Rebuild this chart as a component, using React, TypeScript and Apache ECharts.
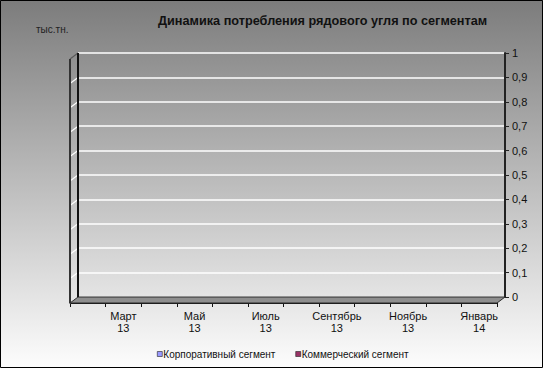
import React, { useEffect, useRef } from "react";
import * as echarts from "echarts";

const months = ["Февраль", "Март", "Апрель", "Май", "Июнь", "Июль", "Август", "Сентябрь", "Октябрь", "Ноябрь", "Декабрь", "Январь"];
const years = ["13", "13", "13", "13", "13", "13", "13", "13", "13", "13", "13", "14"];
const corporate = [0, 0, 0, 0, 0, 0, 0, 0, 0, 0, 0, 0];
const commercial = [0, 0, 0, 0, 0, 0, 0, 0, 0, 0, 0, 0];
const yMin = 0;
const yMax = 1;
const yStep = 0.1;
const seriesNames = ["Корпоративный сегмент", "Коммерческий сегмент"];
const seriesColors = ["#9999ff", "#993366"];
const titleText = "Динамика потребления рядового угля по сегментам";
const unitText = "тыс.тн.";

const FONT = "'Liberation Sans', Arial, sans-serif";

export default function App() {
  const ref = useRef<HTMLDivElement>(null);
  useEffect(() => {
    if (!ref.current) return;
    const chart = echarts.init(ref.current, null, { renderer: "svg" });
    const categories = months.map((m, i) => `${m}\n${years[i]}`);
    chart.setOption({
      animation: false,
      backgroundColor: {
        type: "linear", x: 0, y: 0, x2: 0, y2: 1,
        colorStops: [
          { offset: 0, color: "#7c7c7c" },
          { offset: 1, color: "#fdfdfd" },
        ],
      },
      textStyle: { fontFamily: FONT },
      title: {
        text: titleText,
        left: 153,
        top: 9,
        textStyle: { fontSize: 12.7, fontWeight: "bold", color: "#111", fontFamily: FONT },
      },
      legend: {
        data: seriesNames,
        top: 344,
        left: 152,
        itemWidth: 5,
        itemHeight: 5,
        itemGap: 20,
        icon: "rect",
        itemStyle: { borderColor: "#222", borderWidth: 0.6 },
        textStyle: { fontSize: 10, color: "#111", fontFamily: FONT, padding: [0, 0, 0, -4] },
      },
      grid: [
        { left: 78, right: 38, top: 53, bottom: 71 },
        { left: 70, right: 46, top: 59, bottom: 65 },
      ],
      xAxis: [
        { type: "category", gridIndex: 0, data: categories, show: false },
        {
          type: "category",
          gridIndex: 1,
          data: categories,
          axisLine: { show: true, lineStyle: { color: "#111", width: 1 } },
          axisTick: { show: true, length: 4, interval: 0, lineStyle: { color: "#111" } },
          axisLabel: {
            interval: (i: number) => i % 2 === 1,
            fontSize: 11,
            lineHeight: 12,
            margin: 7,
            color: "#111",
            fontFamily: FONT,
          },
        },
      ],
      yAxis: [
        {
          type: "value",
          gridIndex: 0,
          position: "right",
          min: yMin,
          max: yMax,
          interval: yStep,
          axisLine: { show: true, lineStyle: { color: "#222", width: 2 } },
          axisTick: { show: true, length: 4, lineStyle: { color: "#222" } },
          axisLabel: {
            margin: 7,
            fontSize: 11,
            color: "#111",
            fontFamily: FONT,
            formatter: (v: number) => String(+v.toFixed(1)).replace(".", ","),
          },
          splitLine: { show: true, lineStyle: { color: "#ffffff", width: 1.5 } },
        },
        { type: "value", gridIndex: 1, min: yMin, max: yMax, show: false, splitLine: { show: false } },
      ],
      series: [
        { name: seriesNames[0], type: "bar", xAxisIndex: 1, yAxisIndex: 1, data: corporate, itemStyle: { color: seriesColors[0] } },
        { name: seriesNames[1], type: "bar", xAxisIndex: 1, yAxisIndex: 1, data: commercial, itemStyle: { color: seriesColors[1] } },
      ],
    });

    // 3D decorations derived from axis geometry
    const dx = 8, dy = 6;
    const grid0 = (chart as any).getModel().getComponent("grid", 0).coordinateSystem.getRect();
    const bl = grid0.x;
    const br = grid0.x + grid0.width;
    const yTop = grid0.y;
    const yBot = grid0.y + grid0.height;
    const graphics: any[] = [];
    const nTicks = Math.round((yMax - yMin) / yStep);
    for (let k = 0; k <= nTicks; k++) {
      const v = yMin + k * yStep;
      const py = chart.convertToPixel({ yAxisIndex: 0 }, v) as number;
      graphics.push({
        type: "line",
        shape: { x1: bl, y1: py, x2: bl - dx, y2: py + dy },
        style: { stroke: k === nTicks ? "#5a5a5a" : "#ffffff", lineWidth: 1.2 },
        z: 10,
      });
    }
    graphics.push(
      {
        type: "polygon",
        shape: { points: [[bl - dx, yBot + dy], [bl, yBot], [br, yBot], [br - dx, yBot + dy]] },
        style: { fill: "#8e8e8e", stroke: "#2a2a2a", lineWidth: 1 },
        z: 11,
      },
      {
        type: "line",
        shape: { x1: bl - dx, y1: yTop + dy, x2: bl - dx, y2: yBot + dy },
        style: { stroke: "#333", lineWidth: 2 },
        z: 12,
      },
      {
        type: "line",
        shape: { x1: bl, y1: yTop, x2: bl, y2: yBot },
        style: { stroke: "#111", lineWidth: 2 },
        z: 12,
      },
      {
        type: "text",
        left: 36,
        top: 24,
        style: { text: unitText, fontSize: 10, fill: "#222", fontFamily: FONT },
        z: 12,
      },
      {
        type: "rect",
        shape: { x: 0.5, y: 0.5, width: 542, height: 367 },
        style: { fill: "none", stroke: "#000", lineWidth: 1 },
        z: 20,
      }
    );
    chart.setOption({ graphic: graphics });
    return () => chart.dispose();
  }, []);
  return <div ref={ref} style={{ position: "fixed", left: 0, top: 0, width: 543, height: 368 }} />;
}
